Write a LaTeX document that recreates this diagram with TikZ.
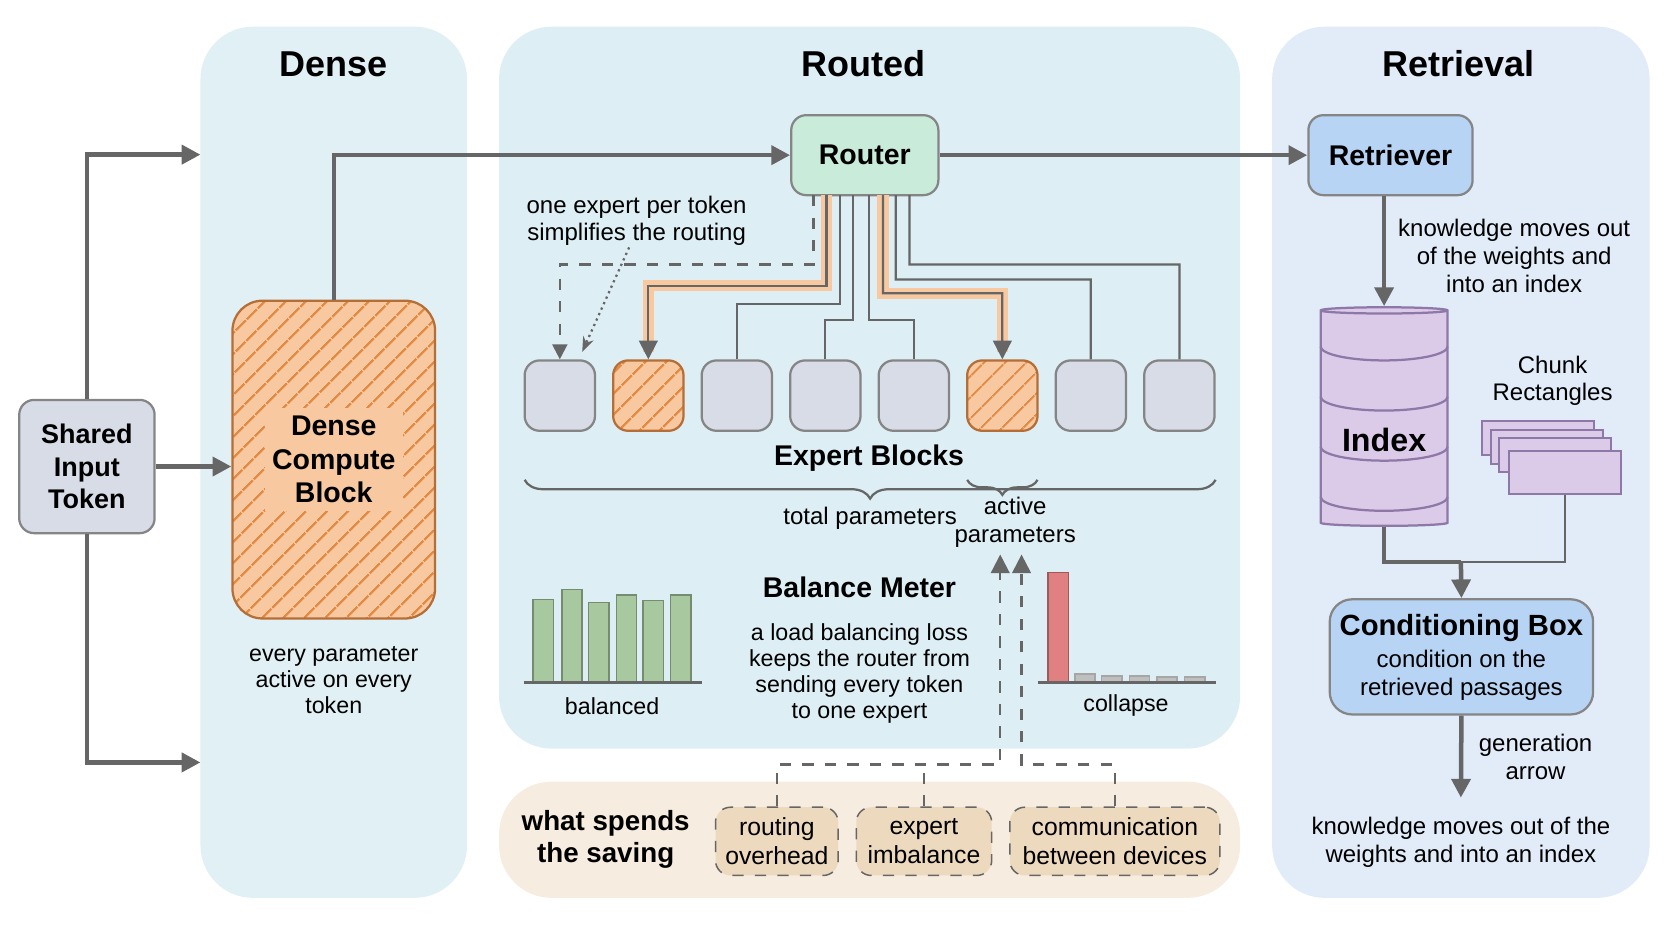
\documentclass[tikz,border=0pt]{standalone}
\usepackage{fontspec}
\setmainfont{Liberation Sans}
\usetikzlibrary{arrows.meta, positioning, calc, decorations.pathreplacing, patterns.meta, shapes.geometric}
\definecolor{densebg}{HTML}{E0F0F5}
\definecolor{routebg}{HTML}{DDEFF5}
\definecolor{retrbg}{HTML}{E1ECF8}
\definecolor{costbg}{HTML}{F6ECE0}
\definecolor{costbox}{HTML}{EDD9BE}
\definecolor{tokfill}{HTML}{D8DCE6}
\definecolor{expfill}{HTML}{D8DCE6}
\definecolor{hotfill}{HTML}{F8C9A0}
\definecolor{hotline}{HTML}{E38A45}
\definecolor{routfill}{HTML}{C9EBD9}
\definecolor{retfill}{HTML}{B8D4F4}
\definecolor{idxfill}{HTML}{DCCBE8}
\definecolor{idxline}{HTML}{8E78A8}
\definecolor{barg}{HTML}{A8C8A0}
\definecolor{barr}{HTML}{E08080}
\definecolor{lineg}{HTML}{666666}
\tikzset{
  panel/.style={rounded corners=14pt, fill=#1, draw=none},
  title/.style={font=\bfseries\fontsize{9.6}{11}\selectfont},
  body/.style={font=\fontsize{6.2}{7}\selectfont, align=center, inner sep=0pt, text=black},
  boxlabel/.style={font=\bfseries\fontsize{7.6}{9}\selectfont, align=center},
  blk/.style={draw=lineg!80, rounded corners=4pt, line width=0.6pt},
  hatched/.style={blk, draw=hotline!80!black, preaction={fill=hotfill},
    pattern={Lines[angle=45, distance=4pt, line width=0.6pt]}, pattern color=hotline},
  expert/.style={blk, fill=expfill, minimum width=0.66cm, minimum height=0.66cm, inner sep=0pt},
  hotexpert/.style={expert, hatched},
  arr/.style={-{Triangle[length=5pt,width=5pt]}, lineg, line width=1.2pt},
  wire/.style={lineg, line width=0.6pt},
  glow/.style={hotfill, line width=3pt},
  costitem/.style={draw=lineg, dashed, rounded corners=4pt, fill=costbox, body, font=\fontsize{6.6}{7.8}\selectfont, minimum height=0.64cm}
}
\begin{document}
\begin{tikzpicture}
  \useasboundingbox (0,0) rectangle (15.68,-8.83);
  % panels
  \fill[panel=densebg] (1.88,-0.25) rectangle (4.38,-8.42);
  \fill[panel=routebg] (4.68,-0.25) rectangle (11.63,-7.02);
  \fill[panel=costbg] (4.68,-7.33) rectangle (11.63,-8.42);
  \fill[panel=retrbg] (11.93,-0.25) rectangle (15.47,-8.42);
  \node[title] (tdense) at (3.13,-0.6) {Dense};
  \node[title] (trouted) at (8.10,-0.6) {Routed};
  \node[title] (tretr) at (13.68,-0.6) {Retrieval};

  % shared input
  \node[blk, fill=tokfill, minimum width=1.27cm, minimum height=1.25cm, boxlabel, font=\bfseries\fontsize{7.2}{8.6}\selectfont] (tok) at (0.815,-4.375) {Shared\\Input\\Token};
  \coordinate (dtop) at (1.88,-1.45);
  \coordinate (dbot) at (1.88,-7.15);
  \draw[arr] (tok.north) |- (dtop);
  \draw[arr] (tok.south) |- (dbot);

  % dense block
  \node[hatched, rounded corners=8pt, minimum width=1.9cm, minimum height=2.98cm] (dense) at (3.13,-4.31) {};
  \node[boxlabel, fill=hotfill, inner sep=2pt] (denselbl) at (dense) {Dense\\Compute\\Block};
  \draw[arr] (tok.east) -- (tok.east -| dense.west);
  \node[body] (densetxt) at (3.13,-6.38) {every parameter\\active on every\\token};

  % router and retriever
  \node[blk, fill=routfill, minimum width=1.38cm, minimum height=0.75cm, boxlabel] (router) at (8.11,-1.455) {Router};
  \node[blk, fill=retfill, minimum width=1.54cm, minimum height=0.75cm, boxlabel] (retr) at (13.04,-1.455) {Retriever};
  \draw[arr] (dense.north) |- (router.west);
  \draw[arr] (router.east) -- (retr.west);

  % experts
  \foreach \i/\s in {1/expert,2/hotexpert,3/expert,4/expert,5/expert,6/hotexpert,7/expert,8/expert}
    \node[\s] (e\i) at ({5.25+(\i-1)*0.83},-3.71) {};
  % routing wires
  \draw[glow] (7.75,-1.83) |- (6.08,-2.68) -- (6.08,-3.30);
  \draw[glow] (8.28,-1.83) |- (9.40,-2.75) -- (9.40,-3.30);
  \draw[wire, dashed, -{Triangle[length=4pt,width=4pt]}] (7.63,-1.83) |- (5.25,-2.48) -- (e1.north);
  \draw[wire, -{Triangle[length=5pt,width=5pt]}] (7.75,-1.83) |- (6.08,-2.68) -- (e2.north);
  \draw[wire] (7.88,-1.83) |- (6.91,-2.85) -- (e3.north);
  \draw[wire] (8.00,-1.83) |- (7.74,-3.00) -- (e4.north);
  \draw[wire] (8.15,-1.83) |- (8.57,-3.00) -- (e5.north);
  \draw[wire, -{Triangle[length=5pt,width=5pt]}] (8.28,-1.83) |- (9.40,-2.75) -- (e6.north);
  \draw[wire] (8.40,-1.83) |- (10.23,-2.62) -- (e7.north);
  \draw[wire] (8.53,-1.83) |- (11.06,-2.48) -- (e8.north);
  \node[body, font=\fontsize{6.4}{7.4}\selectfont] (onenote) at (5.97,-2.07) {one expert per token\\simplifies the routing};
  \draw[wire, densely dotted, -{Stealth[length=4pt]}] (5.90,-2.32) -- (5.46,-3.30);

  % parameter braces
  \node[boxlabel] (explbl) at (8.15,-4.30) {Expert Blocks};
  \draw[wire, decorate, decoration={brace, mirror, amplitude=5pt}] (4.92,-4.50) -- (11.40,-4.50)
    node[midway, below=7pt, body, font=\fontsize{6.4}{7.4}\selectfont] (totp) {total parameters};
  \draw[wire, decorate, decoration={brace, mirror, amplitude=4pt}] (9.07,-4.50) -- (9.73,-4.50);
  \node[body, font=\fontsize{6.4}{7.4}\selectfont] (actp) at (9.52,-4.90) {active\\parameters};

  % balanced bars
  \foreach \x/\h in {5.00/0.78,5.27/0.87,5.52/0.75,5.78/0.82,6.03/0.77,6.29/0.82}
    \draw[fill=barg, draw=barg!70!black, line width=0.4pt] (\x,-6.40) rectangle ++(0.19,\h);
  \draw[wire] (4.91,-6.40) -- (6.58,-6.40);
  \node[body] (ballbl) at (5.74,-6.62) {balanced};
  % collapse bars
  \draw[fill=barr, draw=barr!70!black, line width=0.4pt] (9.83,-6.40) rectangle ++(0.19,1.03);
  \foreach \x/\h in {10.08/0.08,10.33/0.06,10.59/0.06,10.85/0.05,11.11/0.05}
    \draw[fill=gray!50, draw=gray!70, line width=0.4pt] (\x,-6.40) rectangle ++(0.19,\h);
  \draw[wire] (9.73,-6.40) -- (11.40,-6.40);
  \node[body] (collbl) at (10.56,-6.62) {collapse};
  \node[boxlabel] (balmeter) at (8.06,-5.51) {Balance Meter};
  \node[body, below=3pt of balmeter] (baltxt) {a load balancing loss\\keeps the router from\\sending every token\\to one expert};

  % costs
  \node[boxlabel, font=\bfseries\fontsize{7.4}{8.6}\selectfont] (spend) at (5.68,-7.87) {what spends\\the saving};
  \node[costitem, minimum width=1.15cm] (c1) at (7.285,-7.89) {routing\\overhead};
  \node[costitem, minimum width=1.27cm] (c2) at (8.665,-7.89) {expert\\imbalance};
  \node[costitem, minimum width=1.97cm] (c3) at (10.455,-7.89) {communication\\between devices};
  \coordinate (a1) at (9.38,-5.20);
  \coordinate (a2) at (9.58,-5.20);
  \draw[wire, dashed, -{Triangle[length=5pt,width=5pt]}] (c1.north) |- (9.38,-7.17) -- (a1);
  \draw[wire, dashed] (c2.north) -- (8.665,-7.17);
  \draw[wire, dashed, -{Triangle[length=5pt,width=5pt]}] (c3.north) |- (9.58,-7.17) -- (a2);

  % index cylinder
  \node[cylinder, shape border rotate=90, aspect=0.25, draw=idxline, fill=idxfill, line width=0.6pt,
        minimum width=1.19cm, minimum height=2.05cm] (idx) at (12.98,-3.935) {};
  \foreach \y in {-3.25,-3.72,-4.19,-4.66}
    \draw[idxline, line width=0.6pt] (12.385,\y) arc[start angle=180, end angle=360, x radius=0.595, y radius=0.13];
  \node[boxlabel, font=\bfseries\fontsize{8.6}{10}\selectfont] (idxlbl) at (12.98,-4.13) {Index};
  \draw[arr] (retr.south -| idx.north) -- (idx.north);
  \node[body, font=\fontsize{6.4}{7.4}\selectfont] (knowtxt) at (14.20,-2.40) {knowledge moves out\\of the weights and\\into an index};

  % chunks
  \node[body, font=\fontsize{6.4}{7.4}\selectfont] (chunklbl) at (14.56,-3.57) {Chunk\\Rectangles};
  \foreach \k in {0,1,2}
    \draw[fill=idxfill, draw=idxline, line width=0.5pt] ({13.90+0.08*\k},{-3.95-0.08*\k}) rectangle ++(1.05,-0.32);
  \node[draw=idxline, fill=idxfill, line width=0.5pt, minimum width=1.05cm, minimum height=0.40cm, inner sep=0pt] (chunk) at (14.675,-4.43) {};

  % conditioning
  \node[blk, fill=retfill, rounded corners=6pt, minimum width=2.47cm, minimum height=1.08cm] (cond) at (13.705,-6.16) {};
  \node[boxlabel, font=\bfseries\fontsize{7.8}{9}\selectfont] (condlbl) at (13.705,-5.89) {Conditioning Box};
  \node[body, font=\fontsize{6.4}{7.4}\selectfont] (condtxt) at (13.705,-6.33) {condition on the\\retrieved passages};
  \coordinate (join) at (13.70,-5.27);
  \draw[lineg, line width=1.2pt] (idx.south) |- (join);
  \draw[wire] (chunk.south) |- (join);
  \draw[arr] (join) -- (cond.north);
  \coordinate (genend) at (13.70,-7.48);
  \draw[arr] (cond.south) -- (genend);
  \node[body, font=\fontsize{6.4}{7.4}\selectfont] (gentxt) at (14.40,-7.10) {generation\\arrow};
  \node[body, font=\fontsize{6.4}{7.4}\selectfont] (bottxt) at (13.70,-7.90) {knowledge moves out of the\\weights and into an index};
\end{tikzpicture}
\end{document}
